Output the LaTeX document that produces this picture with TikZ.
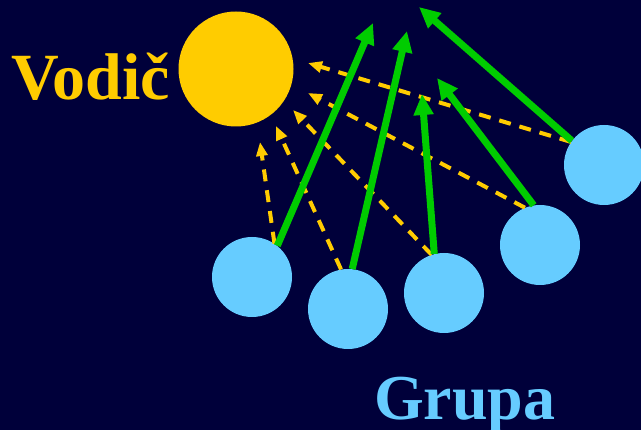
\documentclass[tikz,border=0pt]{standalone}
\usepackage{fontspec}
\setmainfont{Liberation Serif}
\usetikzlibrary{arrows.meta}
\definecolor{bgnavy}{RGB}{0,0,58}
\definecolor{gold}{RGB}{255,204,0}
\definecolor{sky}{RGB}{102,204,255}
\definecolor{leaf}{RGB}{0,204,0}
\tikzset{
  member/.style={circle, fill=sky, minimum size=80pt, inner sep=0pt},
  leader/.style={circle, fill=gold, minimum size=115pt, inner sep=0pt},
  follow/.style={draw=gold, line width=4pt, dash pattern=on 12pt off 9pt,
    -{Triangle[length=14pt,width=11pt]}},
  push/.style={draw=leaf, line width=7pt, -{Triangle[length=21pt,width=19pt]}},
  bigtext/.style={font=\fontsize{66}{66}\selectfont\bfseries, inner sep=0pt, anchor=base west}
}
\begin{document}
\begin{tikzpicture}[x=1pt,y=-1pt]
\fill[bgnavy] (0,0) rectangle (641,430);
\useasboundingbox (0,0) rectangle (641,430);
\node[leader] (sun) at (236,69) {};
\node[bigtext, text=gold] (vodic) at (11,100) {Vodič};
\node[bigtext, text=sky, font=\fontsize{64}{64}\selectfont\bfseries] (grupa) at (374,420) {Grupa};
\node[member] (g1) at (252,277) {};
\node[member] (g2) at (348,309) {};
\node[member] (g3) at (444,293) {};
\node[member] (g4) at (540,245) {};
\node[member] (g5) at (604,165) {};
\coordinate (d1) at (260,142);
\coordinate (d2) at (276,126);
\coordinate (d3) at (293,110);
\coordinate (d4) at (308,93);
\coordinate (d5) at (308,63);
\coordinate (t1) at (373,23);
\coordinate (t2) at (407,31);
\coordinate (t3) at (422,94);
\coordinate (t4) at (437,78);
\coordinate (t5) at (419,7);
\draw[follow] (g1.56) -- (d1);
\draw[follow] (g2.100) -- (d2);
\draw[follow] (g3.108) -- (d3);
\draw[follow] (g4.112) -- (d4);
\draw[follow] (g5.145) -- (d5);
\draw[push] (g1.51) -- (t1);
\draw[push] (g2.84) -- (t2);
\draw[push] (g3.104) -- (t3);
\draw[push] (g4.99) -- (t4);
\draw[push] (g5.143) -- (t5);
\end{tikzpicture}
\end{document}
